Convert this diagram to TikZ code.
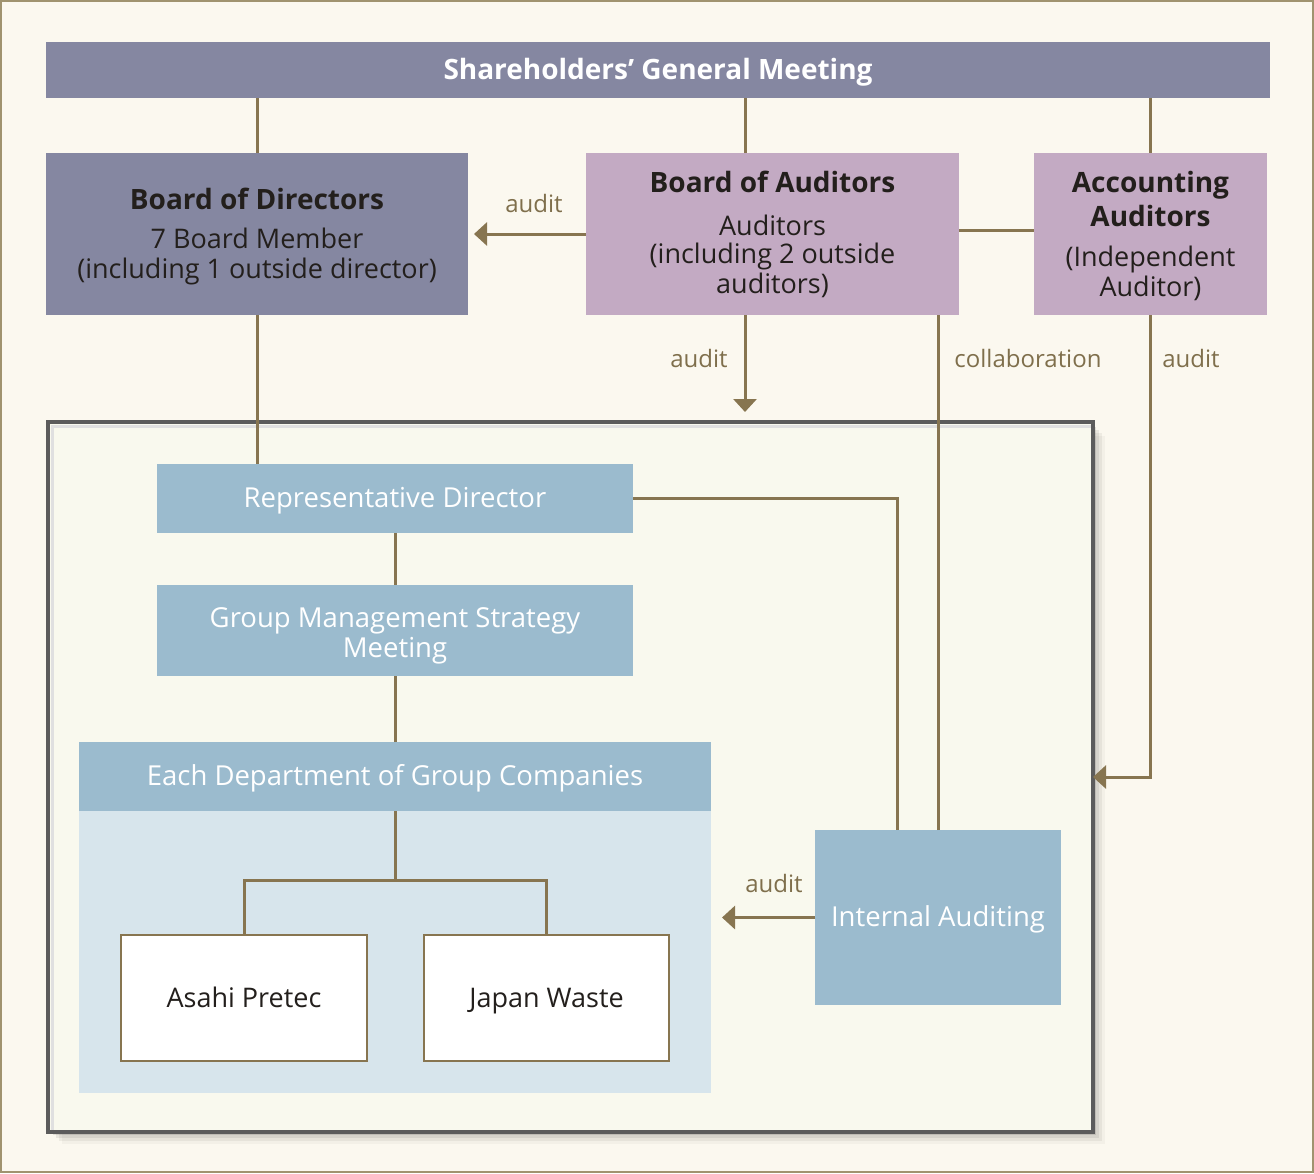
\documentclass[tikz,border=0pt]{standalone}
\usepackage{fontspec}
\setmainfont{Open Sans}
\usetikzlibrary{calc,arrows.meta}
\definecolor{bgc}{HTML}{FBF8EF}
\definecolor{inbg}{HTML}{F9F9EE}
\definecolor{barc}{HTML}{8587A1}
\definecolor{purc}{HTML}{C3AAC3}
\definecolor{bluc}{HTML}{9BBBCE}
\definecolor{ltblu}{HTML}{D7E5EC}
\definecolor{lnc}{HTML}{877550}
\definecolor{lbc}{HTML}{7F6F4C}
\definecolor{txt}{HTML}{231F1C}
\definecolor{frc}{HTML}{5C5C5C}
\definecolor{bdc}{HTML}{A0936F}
\tikzset{
  box/.style={rectangle, inner sep=0pt, outer sep=0pt, align=center, text=txt},
  one/.style={text height=20pt, text depth=2pt},
  lnk/.style={draw=lnc, line width=3pt},
  arr/.style={lnk, -{Triangle[length=13pt,width=23pt]}},
  lbl/.style={text=lbc, font=\fontsize{24}{28}\selectfont, inner sep=0pt},
  btxt/.style={font=\fontsize{27}{30}\selectfont},
  wtxt/.style={text=white, font=\fontsize{27.5}{30}\selectfont},
}
\newcommand{\hd}[1]{{\fontsize{28}{30}\selectfont\bfseries #1}}
\begin{document}
\begin{tikzpicture}[x=1pt,y=-1pt]
\fill[bgc] (0,0) rectangle (1314,1173);
\useasboundingbox (0,0) rectangle (1314,1173);
\draw[bdc, line width=2pt] (1,1) rectangle (1313,1172);

% shadow of inner frame
\foreach \o/\op in {3/0.10,6/0.07,9/0.05,12/0.03}{
  \fill[black, opacity=\op] (50+\o,424+\o) rectangle (1093+\o,1132+\o);
}
\node[box, fill=inbg, draw=frc, line width=4pt, minimum width=1045pt, minimum height=710pt] (frame) at (570.5,777) {};
\draw[black!12, line width=3pt] (52,1130) -- (52,426) -- (1091,426);

% top bar
\node[box, one, fill=barc, minimum width=1224pt, minimum height=56pt, text=white, font=\fontsize{28}{30}\selectfont\bfseries] (sgm) at (658,70) {Shareholders' General Meeting};

% upper boxes
\node[box, fill=barc, minimum width=422pt, minimum height=162pt, btxt] (bod) at (257,234)
  {\rule{0pt}{27pt}\hd{Board of Directors}\\[9pt]7 Board Member\\(including 1 outside director)};
\node[box, fill=purc, minimum width=373pt, minimum height=162pt, btxt] (boa) at (772.5,234)
  {\hd{Board of Auditors}\\[13pt]Auditors\\[-2pt](including 2 outside\\auditors)};
\node[box, fill=purc, minimum width=233pt, minimum height=162pt, btxt] (aa) at (1150.5,234)
  {\rule{0pt}{25pt}\hd{Accounting}\\[4pt]\hd{Auditors}\\[10pt](Independent\\Auditor)};

% inner boxes
\node[box, one, fill=bluc, minimum width=476pt, minimum height=69pt, wtxt] (rd) at (395,498.5) {Representative Director};
\node[box, fill=bluc, minimum width=476pt, minimum height=91pt, wtxt] (gmsm) at (395,630.5) {\rule{0pt}{30pt}Group Management Strategy\\Meeting};
\node[box, fill=ltblu, minimum width=632pt, minimum height=282pt] (edb) at (395,952) {};
\node[box, one, fill=bluc, minimum width=632pt, minimum height=69pt, wtxt] (edh) at (395,776.5) {Each Department of Group Companies};
\node[box, one, fill=white, draw=lnc, line width=2pt, minimum width=246pt, minimum height=126pt, btxt] (ap) at (244,998) {Asahi Pretec};
\node[box, one, fill=white, draw=lnc, line width=2pt, minimum width=245pt, minimum height=126pt, btxt] (jw) at (546.5,998) {Japan Waste};
\node[box, one, fill=bluc, minimum width=246pt, minimum height=175pt, wtxt] (ia) at (938,917.5) {Internal Auditing};

% connectors
\draw[lnk] (bod.north |- sgm.south) -- (bod.north);
\draw[lnk] ($(boa.north)+(-27.5,0)$) -- ($(boa.north |- sgm.south)+(-27.5,0)$);
\draw[lnk] (aa.north |- sgm.south) -- (aa.north);
\draw[arr, shorten >=6pt] (boa.west) -- (bod.east);
\draw[lnk] ([yshift=4pt]boa.east) -- ([yshift=4pt]aa.west);
\draw[lnk] (bod.south) -- (bod.south |- rd.north);
\coordinate (auditTip) at (745,412);
\draw[arr] ($(boa.south)+(-27.5,0)$) -- (auditTip);
\draw[lnk] (ia.north) -- (ia.north |- boa.south);
\draw[arr] (aa.south) |- (frame.east);
\draw[lnk] (rd.east) -| ($(ia.north west)+(82,0)$);
\draw[lnk] (rd.south) -- (gmsm.north);
\draw[lnk] (gmsm.south) -- (edh.north);
\coordinate (br) at (395,880);
\draw[lnk] (edh.south) -- (br);
\draw[lnk] (ap.north) |- (br) -| (jw.north);
\draw[arr, shorten >=11pt] (ia.west) -- (ia.west -| edb.east);

% labels
\node[lbl] (l1) at (534,203) {audit};
\node[lbl] (l2) at (699,358) {audit};
\node[lbl] (l3) at (1028,358) {collaboration};
\node[lbl] (l4) at (1191,358) {audit};
\node[lbl] (l5) at (774,883) {audit};
\end{tikzpicture}
\end{document}
